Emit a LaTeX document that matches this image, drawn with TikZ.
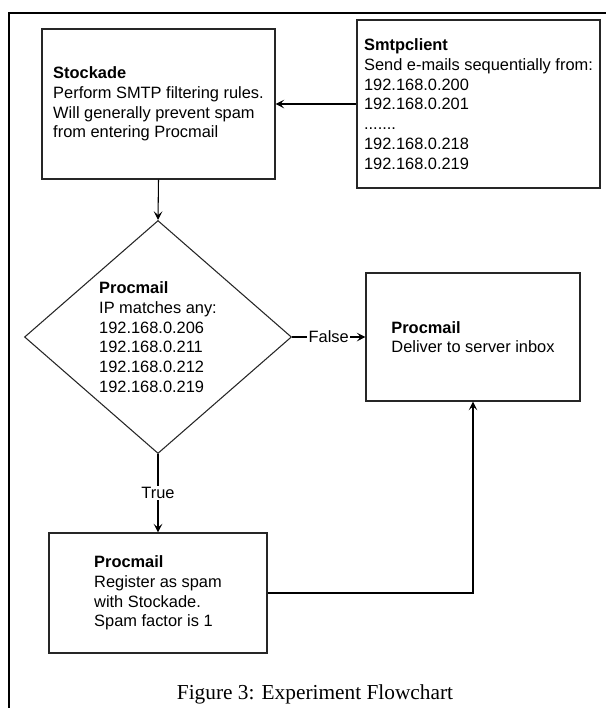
\documentclass[tikz,border=0pt]{standalone}
\usepackage{fontspec}
\setmainfont{Liberation Sans}
\newfontfamily\capfont{Liberation Serif}
\usetikzlibrary{shapes.geometric,arrows.meta}
\tikzset{
  box/.style={draw=black!85, line width=0.8pt, rectangle, inner sep=0pt, align=left,
    font=\fontsize{12.3pt}{14.8pt}\selectfont},
  dia/.style={draw=black!85, line width=0.8pt, diamond, inner sep=0pt},
  txt/.style={inner sep=0pt, align=left, font=\fontsize{12.3pt}{14.8pt}\selectfont},
  conn/.style={draw=black, line width=0.8pt, -{Stealth[length=6.5pt,width=6.5pt,inset=2.8pt]}},
  lbl/.style={fill=white, inner sep=1pt, font=\fontsize{12.3pt}{14.8pt}\selectfont},
  frame/.style={draw=black, line width=1.2pt},
  captxt/.style={inner sep=0pt, font=\capfont\fontsize{16pt}{19pt}\selectfont}
}
\begin{document}
\begin{tikzpicture}[x=0.75pt,y=-0.75pt]
\useasboundingbox (0,0) rectangle (606,708);
\coordinate (fa) at (9,708);
\coordinate (fb) at (9,13);
\coordinate (fc) at (606,13);
\draw[frame] (fa) -- (fb) -- (fc);

\node[box, minimum width=174.75pt, minimum height=112.5pt] (stock) at (158.5,104)
  {\textbf{Stockade}\\Perform SMTP filtering rules.\\Will generally prevent spam\\from entering Procmail};
\node[box, minimum width=182.25pt, minimum height=126pt] (smtp) at (478.5,104)
  {\textbf{Smtpclient}\\Send e-mails sequentially from:\\192.168.0.200\\192.168.0.201\\.......\\192.168.0.218\\192.168.0.219};
\node[dia, minimum width=200.25pt, minimum height=174.75pt] (dia) at (158,337) {};
\node[txt] (diat) at (dia.center)
  {\textbf{Procmail}\\IP matches any:\\192.168.0.206\\192.168.0.211\\192.168.0.212\\192.168.0.219};
\node[box, minimum width=160.5pt, minimum height=96pt] (deliver) at (473,337)
  {\textbf{Procmail}\\Deliver to server inbox};
\node[box, minimum width=163.5pt, minimum height=90pt] (spam) at (158,593)
  {\textbf{Procmail}\\Register as spam\\with Stockade.\\Spam factor is 1};

\draw[conn] (smtp.west) -- (smtp.west -| stock.east);
\draw[conn] (stock.south) -- (dia.north);
\draw[conn] (dia.east) -- node[lbl] {False} (deliver.west);
\draw[conn] (dia.south) -- node[lbl] {True} (spam.north);
\draw[conn] (spam.east) -| (deliver.south);

\node[captxt, anchor=base] (cap) at (315,699) {Figure 3: Experiment Flowchart};
\end{tikzpicture}
\end{document}
